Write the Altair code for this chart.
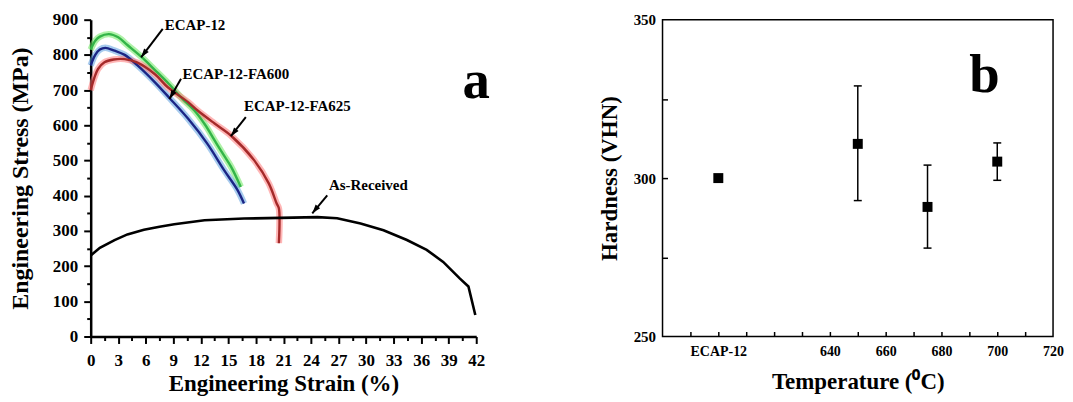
import altair as alt
import pandas as pd

FONT = "Liberation Serif"

# ---------------- Panel a: engineering stress-strain curves ----------------
ar_strain = [0, 1, 2.6, 4, 5.8, 7.5, 9.1, 12.4, 16.7, 20.7, 24.7, 26.85, 29.4, 31.9, 34.45, 36.6, 38.4, 40.2, 41.15, 41.9]
ar_stress = [230, 252, 274, 290, 303, 312, 319, 330, 335, 337, 339, 336, 321, 302, 274, 246, 212, 165, 142, 61]

e12_strain = [0, 0.5, 1, 2, 3, 4, 5.5, 7, 8.5, 10, 11.3, 12.5, 13.5, 14.5, 15.3, 16.35]
e12_stress = [815, 840, 852, 859, 850, 828, 795, 757, 718, 675, 642, 600, 557, 515, 482, 425]

fa600_strain = [0, 0.5, 1, 1.6, 2.6, 3.7, 5.1, 7, 8.6, 10.6, 12.7, 14.55, 16, 16.7]
fa600_stress = [770, 800, 815, 820, 812, 800, 770, 722, 677, 619, 548, 472, 416, 378]

fa625_strain = [0, 0.4, 0.8, 1.5, 2.5, 3.7, 5.1, 7, 8.4, 10.6, 11.65, 13.5, 15.27, 17.8, 19.4, 20.26, 20.5, 20.5]
fa625_stress = [700, 735, 760, 779, 787, 788, 778, 745, 708, 666, 642, 605, 571, 501, 435, 378, 364, 265]

series_names = ["ECAP-12", "ECAP-12-FA600", "ECAP-12-FA625", "As-Received"]
core_colors = ["#33b548", "#1b2585", "#a52a2a", "#000000"]
halo_colors = ["#6ee860", "#5fa0e0", "#ff7a7a", "#000000"]

strain_ticks = [i * 1.5 for i in range(29)]
stress_ticks = list(range(0, 901, 50))

# annotation labels and arrows (data units)
ann_text = ["ECAP-12", "ECAP-12-FA600", "ECAP-12-FA625", "As-Received"]
ann_text_x = [8.07, 10.0, 16.7, 25.95]
ann_text_y = [885, 746, 654, 430]
arrow_tail_x = [7.85, 9.84, 16.9, 25.77]
arrow_tail_y = [874, 732, 623, 401]
arrow_tip_x = [5.49, 8.58, 15.27, 24.14]
arrow_tip_y = [793, 675, 569, 350]
arrow_angle = [217, 210, 218, 219]

# ---------------- Panel b: hardness vs temperature ----------------
temp = [600, 650, 675, 700]
hardness = [300, 310.8, 290.9, 305.2]
hard_low = [300, 292.9, 277.9, 299.3]
hard_high = [300, 329.1, 304.1, 311.1]
temp_label_ticks = [600, 640, 660, 680, 700, 720]
temp_minor_ticks = list(range(590, 711, 10))
hard_label_ticks = [250, 300, 350]
hard_minor_ticks = [275, 300, 325]

# ---------------- build tables ----------------
rows = []
for name, xs, ys in [
    ("ECAP-12", e12_strain, e12_stress),
    ("ECAP-12-FA600", fa600_strain, fa600_stress),
    ("ECAP-12-FA625", fa625_strain, fa625_stress),
    ("As-Received", ar_strain, ar_stress),
]:
    for i, (x, y) in enumerate(zip(xs, ys)):
        rows.append({"series": name, "strain": x, "stress": y, "idx": i})
curves = pd.DataFrame(rows)
colored = curves[curves.series != "As-Received"]
black = curves[curves.series == "As-Received"]

ann = pd.DataFrame({
    "text": ann_text, "tx": ann_text_x, "ty": ann_text_y,
    "x0": arrow_tail_x, "y0": arrow_tail_y, "x1": arrow_tip_x, "y1": arrow_tip_y,
    "angle": arrow_angle,
})

AX_A = dict(labelFontSize=17,
            labelFont=FONT, titleFont=FONT, labelFontWeight="bold", titleFontWeight="bold",
            domainColor="black", tickColor="black", labelColor="black", titleColor="black",
            domainWidth=2.5, tickWidth=2, grid=False, labelOverlap=False, labelFlush=False,
            format="d", domain=True, ticks=True)


def xa(field):
    return alt.X(field, type="quantitative",
                 scale=alt.Scale(domain=[0, 42], nice=False, zero=False),
                 axis=alt.Axis(values=strain_ticks, title="Engineering Strain (%)",
                               labelExpr="datum.value % 3 == 0 ? datum.label : ''",
                               tickSize={"condition": {"test": "datum.value % 3 == 0", "value": 7}, "value": 4},
                               labelPadding=9, titlePadding=4, titleFontSize=23, **AX_A))


def ya(field):
    return alt.Y(field, type="quantitative",
                 scale=alt.Scale(domain=[0, 900], nice=False, zero=False),
                 axis=alt.Axis(values=stress_ticks, title="Engineering Stress (MPa)",
                               labelExpr="datum.value % 100 == 0 ? datum.label : ''",
                               tickSize={"condition": {"test": "datum.value % 100 == 0", "value": 7}, "value": 4},
                               labelPadding=6, titlePadding=20, titleFontSize=24, **AX_A))


halo = alt.Chart(colored).mark_line(strokeWidth=6.5, opacity=0.55, interpolate="catmull-rom").encode(
    x=xa("strain"), y=ya("stress"),
    color=alt.Color("series:N", scale=alt.Scale(domain=series_names, range=halo_colors), legend=None),
    order="idx:Q")
core = alt.Chart(colored).mark_line(strokeWidth=2.4, interpolate="catmull-rom").encode(
    x=xa("strain"), y=ya("stress"),
    color=alt.Color("series2:N", scale=alt.Scale(domain=series_names, range=core_colors), legend=None),
    order="idx:Q").transform_calculate(series2="datum.series")
blk = alt.Chart(black).mark_line(strokeWidth=2.6, color="black").encode(
    x=xa("strain"), y=ya("stress"), order="idx:Q")

arrows = alt.Chart(ann).mark_rule(color="black", strokeWidth=2).encode(
    x=xa("x0"), y=ya("y0"), x2="x1:Q", y2="y1:Q")
heads = alt.Chart(ann).mark_point(shape="M0,0L-0.55,1.7L0.55,1.7Z", filled=True, color="black",
                                  opacity=1, size=110).encode(
    x=xa("x1"), y=ya("y1"), angle=alt.Angle("angle:Q", scale=None))
labels = alt.Chart(ann).mark_text(align="left", baseline="middle", font=FONT, fontWeight="bold",
                                  fontSize=15, color="black").encode(
    x=xa("tx"), y=ya("ty"), text="text:N")
letter_a = alt.Chart(pd.DataFrame({"x": [42.0], "y": [678], "t": ["a"]})).mark_text(
    align="center", baseline="alphabetic", font=FONT, fontWeight="bold", fontSize=55, color="black"
).encode(x=xa("x"), y=ya("y"), text="t:N")

panel_a = alt.layer(halo, core, blk, arrows, heads, labels, letter_a).resolve_scale(
    color="independent").properties(width=387, height=318, view=alt.ViewBackground(stroke=None))

# ---------------- panel b ----------------
hb = pd.DataFrame({"temp": temp, "hard": hardness, "lo": hard_low, "hi": hard_high})
hb_err = hb[hb.temp != 600]

XS_B = alt.Scale(domain=[580, 720], nice=False, zero=False)
YS_B = alt.Scale(domain=[250, 350], nice=False, zero=False)

common_ax = dict(labelFont=FONT, titleFont=FONT, labelFontWeight="bold", titleFontWeight="bold",
                 domain=False, labelColor="black", titleColor="black", tickColor="black", grid=False)

xb_lab = alt.X("temp:Q", scale=XS_B,
               axis=alt.Axis(values=temp_label_ticks, format="d", ticks=False,
                             labelExpr="datum.value == 600 ? 'ECAP-12' : datum.label",
                             labelFontSize=14, labelPadding=8, titlePadding=12, titleFontSize=23,
                             title="Temperature (\u2070C)", orient="bottom", labelFlush=False,
                             labelOverlap=False, **common_ax))
yb_lab = alt.Y("hard:Q", scale=YS_B,
               axis=alt.Axis(values=hard_label_ticks, format="d", ticks=False, labelFontSize=15,
                             labelPadding=7, titlePadding=12, titleFontSize=23, title="Hardness (VHN)",
                             orient="left", labelFlush=False, labelOverlap=False, **common_ax))

pts = alt.Chart(hb).mark_square(size=100, color="black", opacity=1).encode(x=xb_lab, y=yb_lab)

tick_df = pd.DataFrame({"tx": temp_minor_ticks})
xb_tick = alt.X("tx:Q", scale=XS_B,
                axis=alt.Axis(values=temp_minor_ticks, labels=False, ticks=True, tickSize=5,
                              tickWidth=1.5, offset=-5, title=None, orient="bottom", domain=False,
                              grid=False, tickColor="black"))
tick_layer_x = alt.Chart(tick_df).mark_point(opacity=0).encode(
    x=xb_tick, y=alt.value(0))

ytick_df = pd.DataFrame({"ty": hard_minor_ticks})
yb_tick = alt.Y("ty:Q", scale=YS_B,
                axis=alt.Axis(values=hard_minor_ticks, labels=False, ticks=True, tickSize=5,
                              tickWidth=1.5, offset=-5, title=None, orient="left", domain=False,
                              grid=False, tickColor="black"))
tick_layer_y = alt.Chart(ytick_df).mark_point(opacity=0).encode(
    y=yb_tick, x=alt.value(0))

xb_none = lambda f: alt.X(f, type="quantitative", scale=XS_B, axis=None)
yb_none = lambda f: alt.Y(f, type="quantitative", scale=YS_B, axis=None)

err = alt.Chart(hb_err).mark_rule(color="black", strokeWidth=1.5).encode(
    x=xb_none("temp"), y=yb_none("lo"), y2="hi:Q")
cap_lo = alt.Chart(hb_err).mark_point(shape="M-1,0L1,0", filled=False, color="black",
                                      strokeWidth=1.5, size=64, opacity=1).encode(
    x=xb_none("temp"), y=yb_none("lo"))
cap_hi = alt.Chart(hb_err).mark_point(shape="M-1,0L1,0", filled=False, color="black",
                                      strokeWidth=1.5, size=64, opacity=1).encode(
    x=xb_none("temp"), y=yb_none("hi"))
letter_b = alt.Chart(pd.DataFrame({"x": [695.4], "y": [327.1], "t": ["b"]})).mark_text(
    align="center", baseline="alphabetic", font=FONT, fontWeight="bold", fontSize=55, color="black"
).encode(x=xb_none("x"), y=yb_none("y"), text="t:N")

panel_b = alt.layer(pts, err, cap_lo, cap_hi, letter_b, tick_layer_x, tick_layer_y).resolve_axis(
    x="independent", y="independent").properties(
    width=392, height=318, view=alt.ViewBackground(stroke="black", strokeWidth=1.5))

chart = alt.hconcat(panel_a, panel_b, spacing=107).properties(
    padding={"left": 0, "top": 2, "right": 0, "bottom": 0}
).configure_view(stroke=None).configure(background="white")

chart.save("out.html", embed_options={"renderer": "svg", "actions": False})
